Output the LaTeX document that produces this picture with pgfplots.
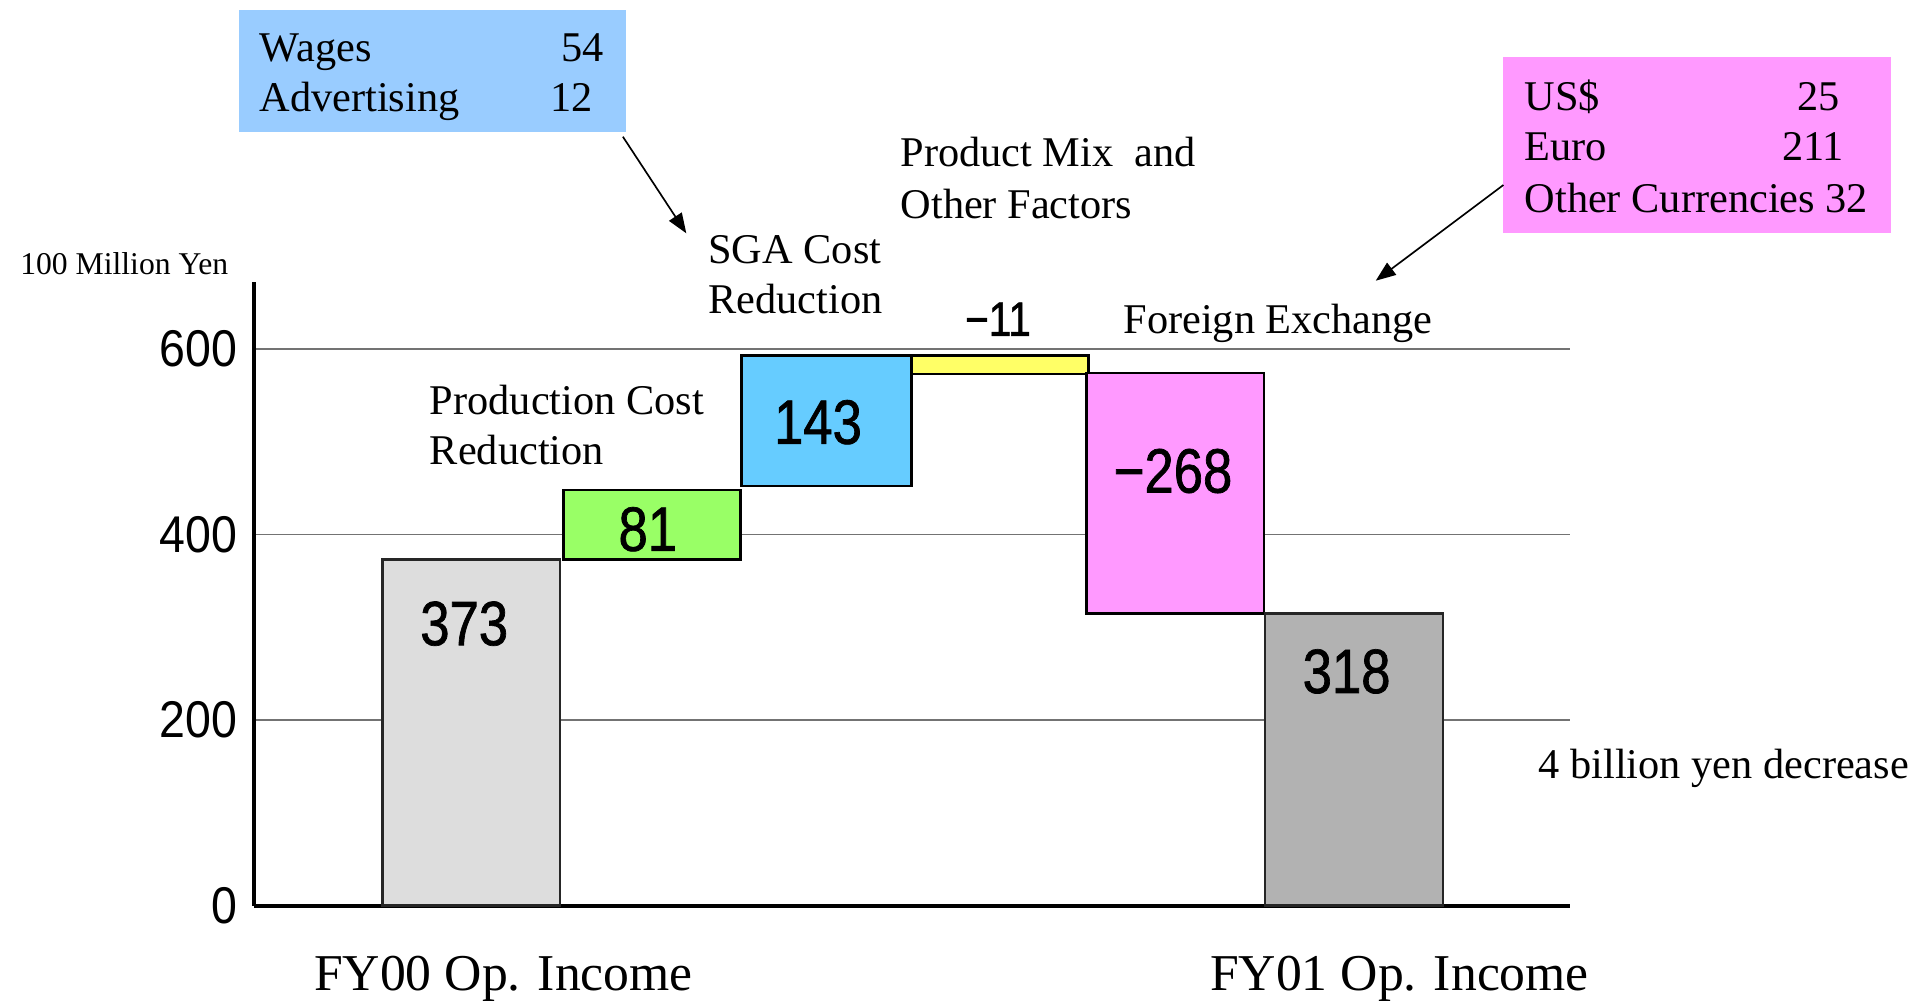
\documentclass[border=0pt]{standalone}
\usepackage{fontspec}
\setmainfont{Liberation Serif}
\newfontfamily\numfont[FakeStretch=0.84,FakeBold=1.1]{Liberation Sans}
\newfontfamily\tickfont[FakeStretch=0.9]{Liberation Sans}
\usepackage{pgfplots}
\pgfplotsset{compat=1.18}
\usetikzlibrary{arrows.meta}
\definecolor{cA}{HTML}{DDDDDD}
\definecolor{cB}{HTML}{99FF66}
\definecolor{cC}{HTML}{66CCFF}
\definecolor{cD}{HTML}{FFFF66}
\definecolor{cE}{HTML}{FF99FF}
\definecolor{cF}{HTML}{B2B2B2}
\definecolor{boxB}{HTML}{99CCFF}
\definecolor{boxM}{HTML}{FF99FF}
\begin{document}
\begin{tikzpicture}[x=0.3pt,y=-0.3pt]
\useasboundingbox (0,0) rectangle (1923,1006);
\begin{axis}[
  at={(76.29pt,-271.65pt)}, anchor=south west,
  scale only axis, width=394.71pt, height=187.14pt,
  xmin=-1.227, xmax=6.224, ymin=0, ymax=672.3,
  axis x line*=bottom, axis y line*=left,
  axis line style={-, line width=1.2pt, black},
  xtick=\empty, ytick={0,200,400,600},
  ymajorgrids, grid style={black!55, line width=0.5pt},
  major tick length=0pt,
  yticklabel style={font=\tickfont\fontsize{15.5}{16}\selectfont, inner sep=0pt, xshift=-5pt},
  /pgf/number format/assume math mode=true,
  clip=false,
]
% FY00 Op. Income: 0 -> 373
\addplot[fill=cA, draw=black!85, line width=0.8pt] coordinates {(-0.5,0) (0.504,0) (0.504,373) (-0.5,373)} -- cycle;
% Production cost reduction: 373 -> 448
\addplot[fill=cB, draw=black, line width=0.8pt] coordinates {(0.523,373) (1.528,373) (1.528,448) (0.523,448)} -- cycle;
% SGA cost reduction: 452 -> 593
\addplot[fill=cC, draw=black, line width=0.8pt] coordinates {(1.533,452) (2.496,452) (2.496,593) (1.533,593)} -- cycle;
% Product mix: 593 -> 573
\addplot[fill=cD, draw=black, line width=0.8pt] coordinates {(2.496,573) (3.496,573) (3.496,593) (2.496,593)} -- cycle;
% Foreign exchange: 574 -> 315
\addplot[fill=cE, draw=black, line width=0.8pt] coordinates {(3.487,315) (4.491,315) (4.491,574) (3.487,574)} -- cycle;
% FY01 Op. Income: 0 -> 315
\addplot[fill=cF, draw=black!85, line width=0.8pt] coordinates {(4.497,0) (5.504,0) (5.504,315) (4.497,315)} -- cycle;
\end{axis}

% bar value labels
\begin{scope}[every node/.style={inner sep=0pt, font=\numfont\fontsize{18.8}{20}\selectfont}]
\node at (464.2,623.6) {373};
\node at (647.8,529.2) {81};
\node at (818,422.2) {143};
\node at (1173,471) {−268};
\node at (1346.6,671.4) {318};
\end{scope}
\node[inner sep=0pt, font=\numfont\fontsize{14.5}{16}\selectfont] at (998,319.2) {−11};

% annotations
\begin{scope}[every node/.style={inner sep=0pt, anchor=base west, font=\fontsize{12.7}{14}\selectfont}]
\node at (429.2,414.5) {Production Cost};
\node at (429.2,464.8) {Reduction};
\node at (707.7,263.3) {SGA Cost};
\node at (707.7,313.3) {Reduction};
\node at (900,166.7) {Product Mix\ \ and};
\node at (900,218.3) {Other Factors};
\node at (1122.8,333.3) {Foreign Exchange};
\node at (1538,778.3) {4 billion yen decrease};
\end{scope}

\node[inner sep=0pt, anchor=base west, font=\fontsize{9.5}{11}\selectfont] at (19.6,274.6) {100 Million Yen};

\node[inner sep=0pt, anchor=base, font=\fontsize{15.5}{17}\selectfont] at (503.5,990) {FY00 Op. Income};
\node[inner sep=0pt, anchor=base, font=\fontsize{15.5}{17}\selectfont] at (1399.5,990) {FY01 Op. Income};

% blue box
\fill[boxB] (239,10) rectangle (625.5,131.7);
\begin{scope}[every node/.style={inner sep=0pt, font=\fontsize{12.7}{14}\selectfont}]
\node[anchor=base west] at (259,61) {Wages};
\node[anchor=base west] at (259,111) {Advertising};
\node[anchor=base east] at (604,61) {54};
\node[anchor=base east] at (593.8,111) {12};
\end{scope}
\draw[line width=0.5pt, -{Triangle[length=6pt,width=4.5pt]}] (622.9,136.7) -- (686.3,233.3);

% magenta box
\fill[boxM] (1503.4,57.3) rectangle (1891.3,233.3);
\begin{scope}[every node/.style={inner sep=0pt, font=\fontsize{12.7}{14}\selectfont}]
\node[anchor=base west] at (1524,110) {US\$};
\node[anchor=base west] at (1524,160.7) {Euro};
\node[anchor=base west] at (1524,212.7) {Other Currencies 32};
\node[anchor=base east] at (1840,110) {25};
\node[anchor=base east] at (1844.7,160.7) {211};
\end{scope}
\draw[line width=0.5pt, -{Triangle[length=6pt,width=4.5pt]}] (1503.4,185) -- (1375.7,280.7);
\end{tikzpicture}
\end{document}
